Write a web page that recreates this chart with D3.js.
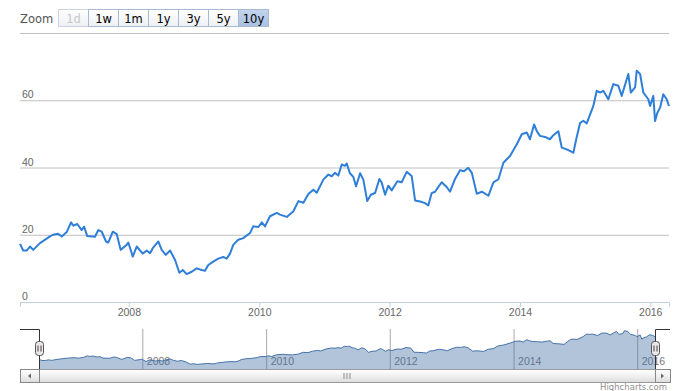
<!DOCTYPE html>
<html>
<head>
<meta charset="utf-8"/>
<script src="https://cdnjs.cloudflare.com/ajax/libs/d3/7.8.5/d3.min.js"></script>
<style>
body{margin:0;background:#fff;}
svg{display:block;font-family:"DejaVu Sans",Verdana,sans-serif;}
</style>
</head>
<body>
<script>
// values
const dates = [
 "2006-05-01","2006-05-19","2006-06-07","2006-06-26","2006-07-14","2006-08-21","2006-10-16","2006-11-02","2006-11-30","2006-12-21",
 "2007-01-18","2007-02-11","2007-02-24","2007-03-18","2007-04-12","2007-04-25","2007-05-13","2007-06-25","2007-07-14","2007-08-02",
 "2007-08-26","2007-09-08","2007-10-03","2007-10-25","2007-11-16","2007-12-20","2007-12-29","2008-01-23","2008-02-14","2008-03-19",
 "2008-04-10","2008-04-29","2008-05-14","2008-06-14","2008-07-03","2008-07-26","2008-08-19","2008-09-16","2008-10-10","2008-10-29",
 "2008-11-20","2008-12-18","2009-01-15","2009-02-12","2009-03-03","2009-03-21","2009-04-18","2009-05-16","2009-06-13","2009-07-02",
 "2009-07-21","2009-08-08","2009-09-05","2009-10-03","2009-11-10","2009-11-28","2009-12-27","2010-01-15","2010-02-02","2010-03-02",
 "2010-04-09","2010-04-27","2010-06-04","2010-07-11","2010-08-08","2010-09-05","2010-10-03","2010-10-31","2010-11-19","2010-12-26",
 "2011-01-23","2011-02-11","2011-03-01","2011-03-20","2011-04-08","2011-04-26","2011-05-06","2011-05-24","2011-06-12","2011-06-27",
 "2011-07-20","2011-08-07","2011-08-29","2011-09-18","2011-10-12","2011-11-05","2011-11-18","2011-12-07","2011-12-25","2012-01-13",
 "2012-02-14","2012-03-09","2012-04-06","2012-05-04","2012-05-23","2012-06-20","2012-07-18","2012-08-05","2012-08-24","2012-09-12",
 "2012-09-30","2012-10-19","2012-11-16","2012-12-05","2013-01-02","2013-01-30","2013-02-21","2013-03-17","2013-04-06","2013-05-04",
 "2013-06-01","2013-07-08","2013-08-05","2013-09-02","2013-09-30","2013-11-06","2013-12-14","2014-01-11","2014-02-08","2014-02-26",
 "2014-03-21","2014-04-05","2014-04-23","2014-05-21","2014-06-18","2014-07-07","2014-08-04","2014-08-23","2014-09-20","2014-10-27",
 "2014-11-15","2014-12-04","2014-12-22","2015-01-10","2015-01-29","2015-02-16","2015-03-07","2015-03-26","2015-04-13","2015-05-11",
 "2015-06-08","2015-07-06","2015-07-25","2015-08-31","2015-09-14","2015-10-08","2015-10-17","2015-11-05","2015-11-23","2015-12-21",
 "2015-12-31","2016-01-18","2016-01-28","2016-02-10","2016-02-25","2016-03-14","2016-04-02","2016-04-15"
];
const values = [
 17.3,15.3,15.3,16.5,15.5,17.5,19.5,20.0,20.3,19.5,
 20.8,23.7,22.7,23.2,21.4,22.4,19.6,19.4,21.4,20.9,
 18.0,17.7,20.9,20.2,15.5,17.0,17.7,13.5,16.5,14.4,
 15.3,14.5,16.0,18.0,15.5,14.0,15.3,12.5,8.7,9.5,
 8.3,9.0,10.0,9.5,9.3,11.0,12.0,12.9,13.4,12.9,
 14.4,17.0,18.5,19.0,20.5,22.5,22.3,23.7,22.5,25.5,
 26.5,26.0,25.3,27.0,30.0,29.5,32.1,33.4,32.5,36.4,
 37.9,37.4,38.4,37.6,40.9,40.5,41.2,38.3,37.2,34.4,
 38.3,36.4,30.0,31.9,32.4,36.6,35.5,31.9,34.6,33.2,
 35.9,35.6,38.7,37.5,30.2,29.9,29.4,28.7,32.4,32.8,
 34.2,35.6,34.2,32.8,36.6,39.2,38.9,39.9,38.4,32.2,
 32.8,31.6,35.6,36.5,41.4,43.4,46.9,49.9,50.4,48.4,
 52.8,50.8,49.4,49.1,48.4,49.6,50.8,45.9,45.4,44.4,
 49.1,53.3,53.9,53.1,55.8,58.3,62.8,62.3,62.8,60.3,
 64.8,64.3,61.3,67.8,62.3,63.8,68.8,67.8,62.3,60.3,
 58.3,61.3,53.8,56.3,57.8,61.8,60.3,58.3
];
const yTicks = [0, 20, 40, 60, 80];
const yearTicks = ["2008-01-01", "2010-01-01", "2012-01-01", "2014-01-01", "2016-01-01"];
const zoomButtons = ["1d", "1w", "1m", "1y", "3y", "5y", "10y"];

const W = 689, H = 391;
const plot = {left: 20, right: 669, top: 33, bottom: 302};
const nav = {left: 39, right: 655, top: 329, bottom: 369};
const parse = d3.timeParse("%Y-%m-%d");
const data = dates.map((d, i) => ({date: parse(d), value: values[i]}));
const ticks = yearTicks.map(parse);

const svg = d3.select("body").append("svg").attr("width", W).attr("height", H);
const defs = svg.append("defs");
function grad(id, stops) {
  const g = defs.append("linearGradient").attr("id", id).attr("x1", 0).attr("y1", 0).attr("x2", 0).attr("y2", 1);
  stops.forEach(s => g.append("stop").attr("offset", s[0]).attr("stop-color", s[1]));
}
grad("btn", [[0, "#ffffff"], [1, "#eef0f4"]]);
grad("btnSel", [[0, "#c3d4ec"], [1, "#a9c1e3"]]);
grad("bar", [[0, "#ffffff"], [0.5, "#f0f0f0"], [1, "#dcdcdc"]]);

// range selector
svg.append("text").attr("x", 20).attr("y", 23).attr("font-size", 11.5).attr("fill", "#555").text("Zoom");
const btn = svg.append("g").selectAll("g").data(zoomButtons).join("g")
  .attr("transform", (d, i) => `translate(${58.5 + i * 30},9.5)`);
btn.append("rect").attr("width", 30).attr("height", 17)
  .attr("fill", d => d === "10y" ? "url(#btnSel)" : "url(#btn)")
  .attr("stroke", d => d === "1d" ? "#c9d3e2" : "#a8b9d3");
btn.append("text").attr("x", 15).attr("y", 13).attr("text-anchor", "middle").attr("font-size", 11.5)
  .attr("fill", d => d === "1d" ? "#c8c8c8" : "#000").text(d => d);

// main scales
const x = d3.scaleTime().domain(d3.extent(data, d => d.date)).range([plot.left, plot.right]);
const y = d3.scaleLinear().domain([0, 80]).range([plot.bottom, plot.top]);

const yAxis = svg.append("g").attr("transform", `translate(${plot.left},0)`)
  .call(d3.axisRight(y).tickValues(yTicks).tickSize(plot.right - plot.left).tickFormat(d => d === 80 ? "" : d));
yAxis.select(".domain").remove();
yAxis.selectAll("line").attr("stroke", "#c0c0c0");
yAxis.selectAll("text").attr("x", 2).attr("dy", -2.5).attr("font-size", 10.5).attr("fill", "#666").attr("font-family", null);

const xAxis = svg.append("g").attr("transform", `translate(0,${plot.bottom})`)
  .call(d3.axisBottom(x).tickValues(ticks).tickSize(5).tickPadding(2).tickFormat(d3.timeFormat("%Y")));
xAxis.select(".domain").attr("stroke", "#c0d0e0");
xAxis.selectAll("line").attr("stroke", "#c0d0e0");
xAxis.selectAll("text").attr("font-size", 10.5).attr("fill", "#666").attr("font-family", null);

svg.append("path").datum(data)
  .attr("fill", "none").attr("stroke", "#2f7ed8").attr("stroke-width", 2).attr("stroke-linejoin", "round")
  .attr("d", d3.line().x(d => x(d.date)).y(d => y(d.value)));

// navigator
const xn = d3.scaleTime().domain(x.domain()).range([nav.left, nav.right]);
const yn = d3.scaleLinear().domain([0, 72]).range([nav.bottom, nav.top]);
const navAxis = svg.append("g").attr("transform", `translate(0,${nav.bottom})`)
  .call(d3.axisBottom(xn).tickValues(ticks).tickSize(-(nav.bottom - nav.top)).tickFormat(d3.timeFormat("%Y")));
navAxis.select(".domain").remove();
navAxis.selectAll("line").attr("stroke", "#a8a8a8");
navAxis.selectAll("text").attr("text-anchor", "start").attr("x", 4).attr("y", -4).attr("dy", null)
  .attr("font-size", 10.5).attr("fill", "#777").attr("font-family", null);

svg.append("path").datum(data)
  .attr("fill", "#4572a7").attr("fill-opacity", 0.42)
  .attr("d", d3.area().x(d => xn(d.date)).y0(nav.bottom).y1(d => yn(d.value)));
svg.append("path").datum(data)
  .attr("fill", "none").attr("stroke", "#4572a7").attr("stroke-width", 1)
  .attr("d", d3.line().x(d => xn(d.date)).y(d => yn(d.value)));

// outline
svg.append("path").attr("fill", "none").attr("stroke", "#333").attr("stroke-width", 1)
  .attr("d", `M${plot.left},${nav.top + 0.5}H${nav.left + 0.5}V${nav.bottom + 0.5}H${nav.right + 0.5}V${nav.top + 0.5}H${plot.right + 1}`);

// handles
[nav.left, nav.right].forEach(hx => {
  const g = svg.append("g").attr("transform", `translate(${hx + 0.5},341.5)`);
  g.append("rect").attr("x", -4).attr("width", 8).attr("height", 14).attr("rx", 3)
    .attr("fill", "#ebe7e8").attr("stroke", "#555");
  g.append("path").attr("stroke", "#444").attr("d", "M-1.5,4V10M1.5,4V10");
});

// scrollbar
const sb = svg.append("g").attr("transform", "translate(0,369.5)");
sb.append("rect").attr("x", nav.left + 0.5).attr("width", nav.right - nav.left).attr("height", 13)
  .attr("fill", "url(#bar)").attr("stroke", "#999");
sb.append("rect").attr("x", plot.left + 0.5).attr("width", nav.left - plot.left).attr("height", 13)
  .attr("fill", "url(#bar)").attr("stroke", "#888");
sb.append("rect").attr("x", nav.right + 0.5).attr("width", plot.right + 1 - nav.right).attr("height", 13)
  .attr("fill", "url(#bar)").attr("stroke", "#888");
sb.append("path").attr("fill", "#666").attr("d", "M28,6.5L31,4V9Z");
sb.append("path").attr("fill", "#666").attr("d", `M${nav.right + 9},6.5L${nav.right + 6},4V9Z`);
const mid = (nav.left + nav.right) / 2;
sb.append("path").attr("stroke", "#888").attr("d", `M${mid - 3},3.5V9.5M${mid},3.5V9.5M${mid + 3},3.5V9.5`);

svg.append("text").attr("x", 667).attr("y", 390).attr("text-anchor", "end")
  .attr("font-size", 8.5).attr("fill", "#909090").text("Highcharts.com");
</script>
</body>
</html>
